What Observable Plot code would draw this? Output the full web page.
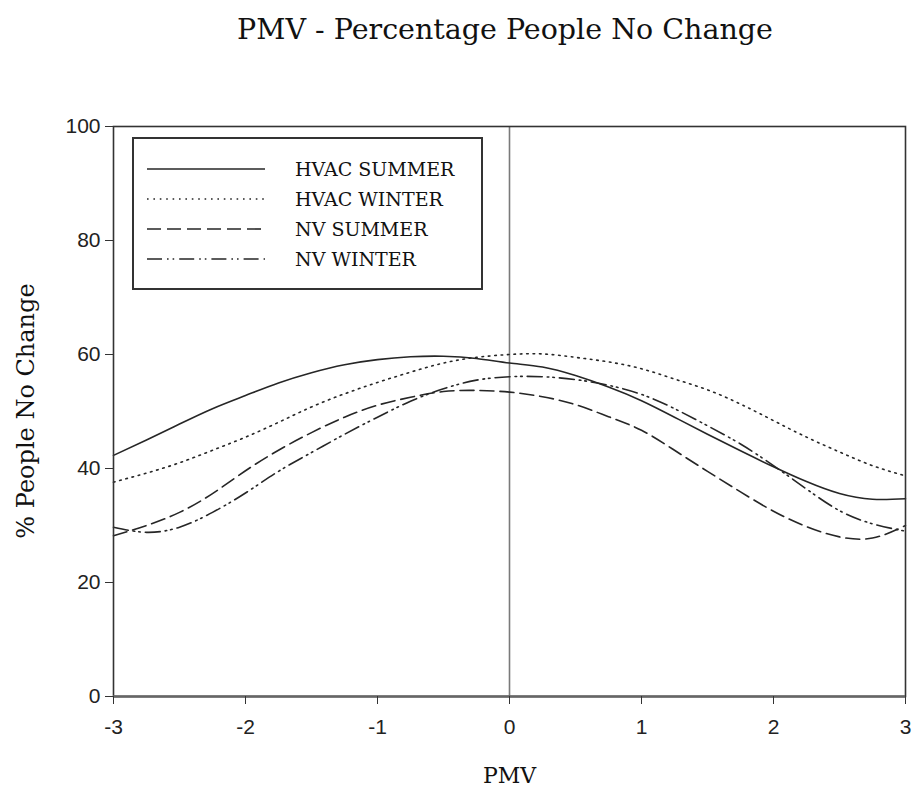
<!DOCTYPE html>
<html>
<head>
<meta charset="utf-8">
<script src="https://cdn.jsdelivr.net/npm/d3@7"></script>
<script src="https://cdn.jsdelivr.net/npm/@observablehq/plot@0.6"></script>
<style>
  html, body { margin: 0; padding: 0; background: #fff; }
  #wrap { position: relative; width: 914px; height: 795px; overflow: hidden; }
  #title { position: absolute; left: 0; width: 914px; top: 13px; text-align: center;
           font-family: "DejaVu Serif", serif; font-size: 28.5px; color: #111; padding-left: 96px; box-sizing: border-box; }
  #legend { position: absolute; left: 132px; top: 137px; }
</style>
</head>
<body>
<div id="wrap">
  <div id="title">PMV - Percentage People No Change</div>
  <div id="chart"></div>
  <div id="legend"></div>
</div>
<script>
// PMV values (x)
const pmv = [-3, -2.75, -2.5, -2.25, -2, -1.75, -1.5, -1.25, -1, -0.75, -0.5, -0.25, 0,
             0.25, 0.5, 0.75, 1, 1.25, 1.5, 1.75, 2, 2.25, 2.5, 2.75, 3];

// % People No Change for each series
const hvacSummer = [42.3, 45.0, 47.8, 50.5, 52.8, 55.0, 56.8, 58.2, 59.1, 59.6, 59.7, 59.3, 58.5,
                    57.8, 56.3, 54.3, 51.9, 49.0, 46.0, 43.1, 40.3, 37.7, 35.6, 34.6, 34.7];
const hvacWinter = [37.6, 39.2, 41.0, 43.2, 45.5, 48.1, 50.8, 53.1, 55.1, 56.9, 58.5, 59.5, 60.0,
                    60.1, 59.5, 58.7, 57.5, 55.7, 53.8, 51.3, 48.4, 45.5, 42.9, 40.5, 38.7];
const nvSummer   = [28.2, 30.0, 32.3, 35.6, 39.6, 43.2, 46.3, 49.0, 51.1, 52.5, 53.5, 53.7, 53.4,
                    52.6, 51.2, 49.1, 46.7, 43.2, 39.5, 35.9, 32.5, 29.8, 28.0, 27.8, 30.0];
const nvWinter   = [29.7, 28.8, 29.7, 32.3, 35.7, 39.5, 42.8, 46.0, 49.0, 51.8, 54.0, 55.5, 56.1,
                    56.1, 55.6, 54.6, 53.0, 50.5, 47.5, 44.3, 40.5, 36.4, 32.6, 30.3, 29.0];

const seriesNames = ["HVAC SUMMER", "HVAC WINTER", "NV SUMMER", "NV WINTER"];
const seriesValues = [hvacSummer, hvacWinter, nvSummer, nvWinter];
const seriesDash = [null, "1.6,4.8", "14,6", "15,5,1.6,4,1.6,5"];

const xTicks = [-3, -2, -1, 0, 1, 2, 3];
const yTicks = [0, 20, 40, 60, 80, 100];

const data = seriesNames.flatMap((name, i) =>
  pmv.map((x, j) => ({series: name, x, y: seriesValues[i][j]})));

const ink = "#262626";
const lineMarks = seriesNames.map((name, i) =>
  Plot.line(data.filter(d => d.series === name), {
    x: "x", y: "y", curve: "natural",
    stroke: ink, strokeWidth: 1.6,
    strokeDasharray: seriesDash[i] || undefined
  }));

const chart = Plot.plot({
  width: 914,
  height: 795,
  marginTop: 126,
  marginBottom: 99,
  marginLeft: 113,
  marginRight: 9,
  x: {domain: [-3, 3]},
  y: {domain: [0, 100]},
  style: {background: "#fff"},
  marks: [
    Plot.ruleX([0], {stroke: "#7a7a7a", strokeWidth: 1.6}),
    ...lineMarks,
    Plot.frame({stroke: "#333", strokeWidth: 1.6}),
    Plot.ruleY([0], {stroke: "#666", strokeWidth: 2.6}),
    Plot.axisX({ticks: xTicks, tickSize: 8, tickPadding: 15, tickFormat: d => String(d),
                fontSize: 21, fontFamily: "Liberation Sans, Arial, sans-serif", stroke: "#333", fill: "#222", label: null}),
    Plot.axisY({ticks: yTicks, tickSize: 8, tickPadding: 5, tickFormat: d => String(d),
                fontSize: 21, fontFamily: "Liberation Sans, Arial, sans-serif", stroke: "#333", fill: "#222", label: null}),
    Plot.text(["PMV"], {frameAnchor: "bottom", dy: 86, fontSize: 22,
                        fontFamily: "DejaVu Serif, serif", fill: "#111"})
  ]
});
document.getElementById("chart").appendChild(chart);

// Y axis title
d3.select(chart).append("text")
  .attr("transform", "translate(26,411) rotate(-90)")
  .attr("text-anchor", "middle").attr("dy", "0.35em")
  .attr("font-family", "DejaVu Serif, serif").attr("font-size", 24).attr("fill", "#111")
  .text("% People No Change");

// Legend (overlay inside the frame)
const lw = 351, lh = 153;
const leg = d3.select("#legend").append("svg").attr("width", lw).attr("height", lh);
leg.append("rect").attr("x", 1).attr("y", 1).attr("width", lw - 2).attr("height", lh - 2)
  .attr("fill", "#fff").attr("stroke", "#333").attr("stroke-width", 2);
const rows = leg.selectAll("g").data(seriesNames).join("g")
  .attr("transform", (d, i) => `translate(0,${32 + i * 30})`);
rows.append("line").attr("x1", 15).attr("x2", 133).attr("y1", 0).attr("y2", 0)
  .attr("stroke", ink).attr("stroke-width", 1.6)
  .attr("stroke-dasharray", (d, i) => seriesDash[i]);
rows.append("text").attr("x", 163).attr("y", 0).attr("dy", "0.35em")
  .attr("font-family", "DejaVu Serif, serif").attr("font-size", 19).attr("fill", "#111")
  .text(d => d);
</script>
</body>
</html>
